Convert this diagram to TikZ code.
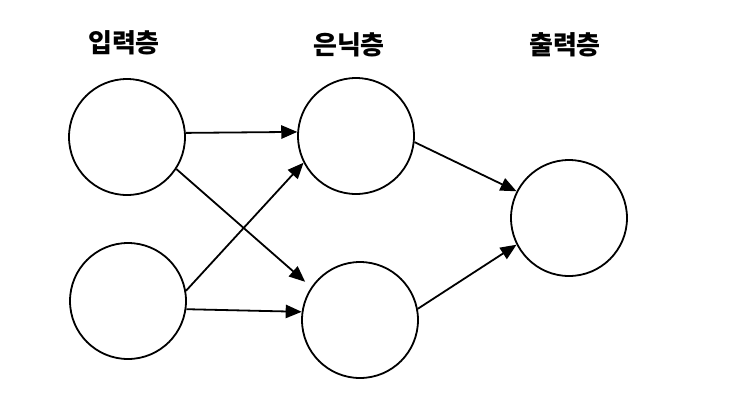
\documentclass[tikz,border=0pt]{standalone}
\usepackage{fontspec}
\newfontfamily\kr{Noto Sans CJK KR}
\usetikzlibrary{arrows.meta}
\begin{document}
\begin{tikzpicture}[x=0.75pt,y=-0.75pt,
  neuron/.style={circle,draw,line width=1.35pt,minimum size=87pt,inner sep=0pt},
  lbl/.style={font=\kr\bfseries\fontsize{19.5}{22}\selectfont},
  conn/.style={line width=1.35pt,-{Triangle[length=12pt,width=10pt]}}]
\useasboundingbox (0,0) rectangle (746,405);
\node[neuron] (i1) at (127,137) {};
\node[neuron] (i2) at (128,301) {};
\node[neuron] (h1) at (356,136) {};
\node[neuron] (h2) at (360,320) {};
\node[neuron] (o) at (569,218) {};
\node[lbl] (li) at (124,43) {입력층};
\node[lbl] (lh) at (349,45) {은닉층};
\node[lbl] (lo) at (565,45) {출력층};
\draw[conn] (i1.4) -- (h1.176);
\draw[conn,shorten >=6pt] (i1.-33) -- (h2.146);
\draw[conn] (i2.10) -- (h1.-153);
\draw[conn] (i2.-8) -- (h2.172);
\draw[conn] (h1.-6) -- (o.153);
\draw[conn] (h2.11) -- (o.-153);
\end{tikzpicture}
\end{document}
